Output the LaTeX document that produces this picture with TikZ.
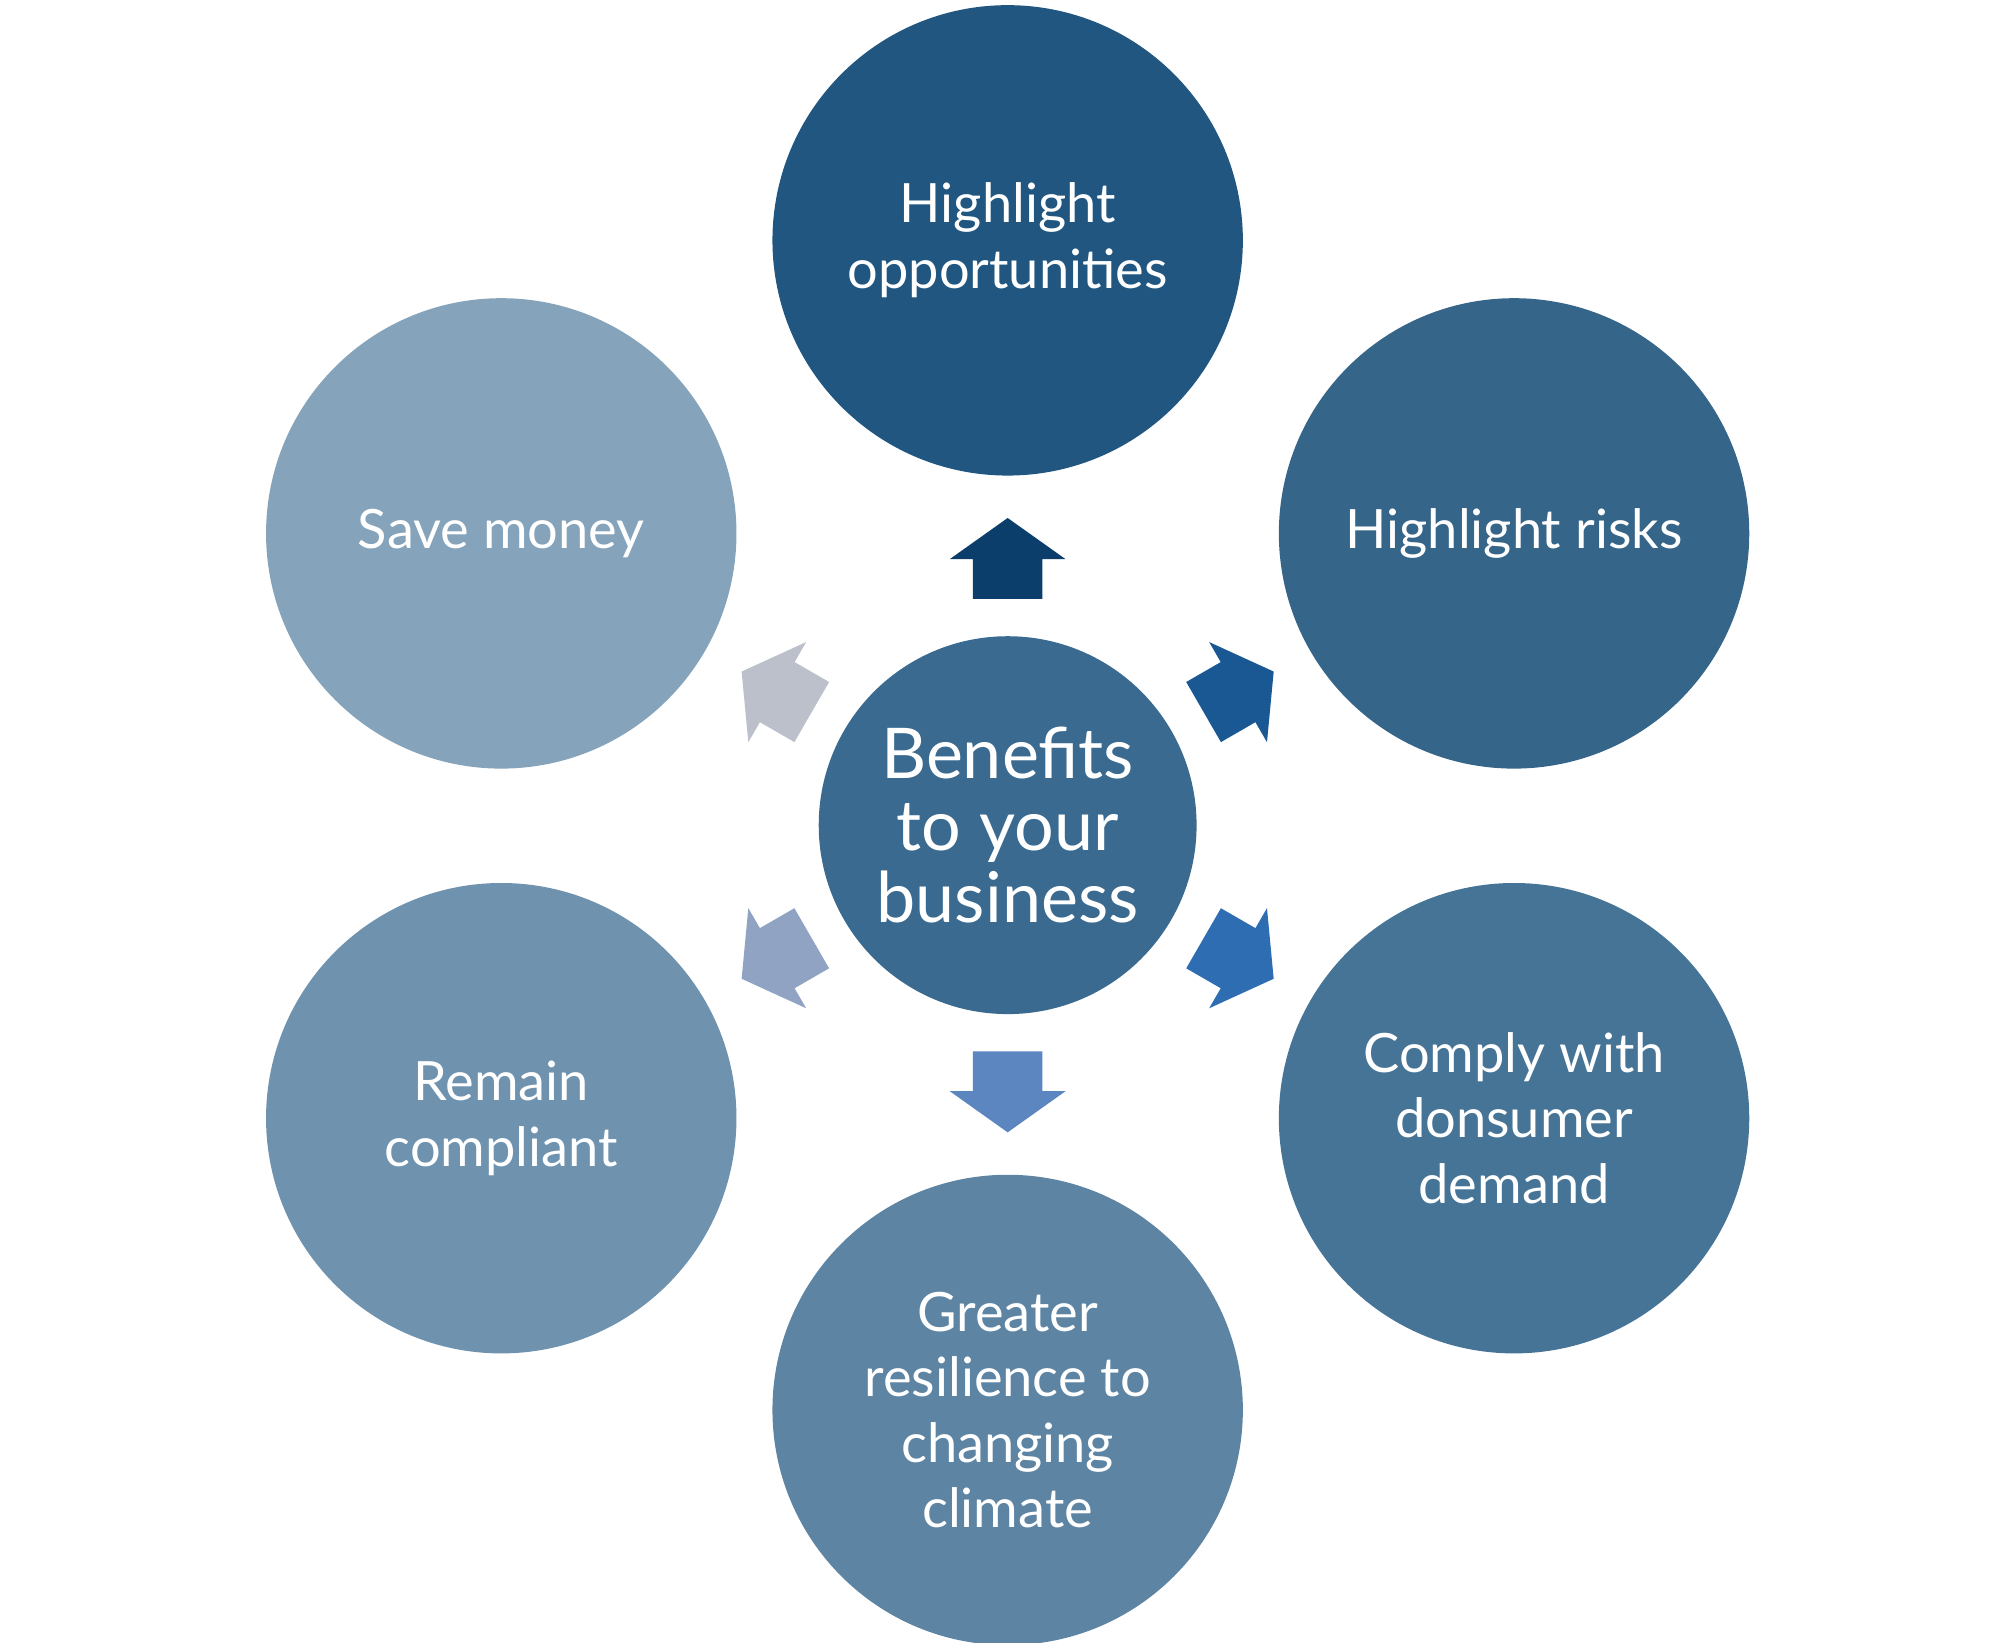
\documentclass[tikz,border=0pt]{standalone}
\usepackage{fontspec}
\setmainfont{Lato}
\usetikzlibrary{calc}
\definecolor{topblue}{RGB}{33,86,128}
\definecolor{riskblue}{RGB}{53,101,137}
\definecolor{demandblue}{RGB}{70,116,150}
\definecolor{climateblue}{RGB}{93,132,163}
\definecolor{compliantblue}{RGB}{111,146,175}
\definecolor{moneyblue}{RGB}{133,163,186}
\definecolor{centreblue}{RGB}{58,106,143}
\definecolor{arrowa}{RGB}{11,62,107}
\definecolor{arrowb}{RGB}{26,88,148}
\definecolor{arrowc}{RGB}{47,109,179}
\definecolor{arrowd}{RGB}{91,134,191}
\definecolor{arrowe}{RGB}{144,163,195}
\definecolor{arrowf}{RGB}{187,192,203}
\tikzset{
    benefit/.style={circle, minimum size=3.66cm, inner sep=0pt, text=white,
        align=center, font=\fontsize{12}{14.5}\selectfont},
    hub/.style={circle, minimum size=2.94cm, inner sep=0pt, text=white,
        align=center, font=\fontsize{15.5}{16}\selectfont, fill=centreblue}
}
% block arrow pointing out from the hub at angle #1
\newcommand{\benefitarrow}[2]{
    \fill[#2, rotate around={#1:(hub.center)}]
        ($(hub.center)+(1.76,-0.27)$) -- ++(0.31,0) -- ++(0,-0.18)
        -- ++(0.32,0.45) -- ++(-0.32,0.45) -- ++(0,-0.18) -- ++(-0.31,0) -- cycle;
}
\begin{document}
\begin{tikzpicture}
    \useasboundingbox (0,0) rectangle (15.6,-12.78);
    \node[hub] (hub) at (7.84,-6.42) {Benefits\\to your\\business};
    \node[benefit, fill=topblue] (opps) at (7.84,-1.87) {Highlight\\opportunities};
    \node[benefit, fill=riskblue] (risks) at (11.78,-4.15) {Highlight risks};
    \node[benefit, fill=demandblue] (demand) at (11.78,-8.70) {Comply with\\donsumer\\demand};
    \node[benefit, fill=climateblue] (climate) at (7.84,-10.97) {Greater\\resilience to\\changing\\climate};
    \node[benefit, fill=compliantblue] (compliant) at (3.90,-8.70) {Remain\\compliant};
    \node[benefit, fill=moneyblue] (money) at (3.90,-4.15) {Save money};
    \benefitarrow{90}{arrowa}
    \benefitarrow{30}{arrowb}
    \benefitarrow{-30}{arrowc}
    \benefitarrow{-90}{arrowd}
    \benefitarrow{210}{arrowe}
    \benefitarrow{150}{arrowf}
\end{tikzpicture}
\end{document}
